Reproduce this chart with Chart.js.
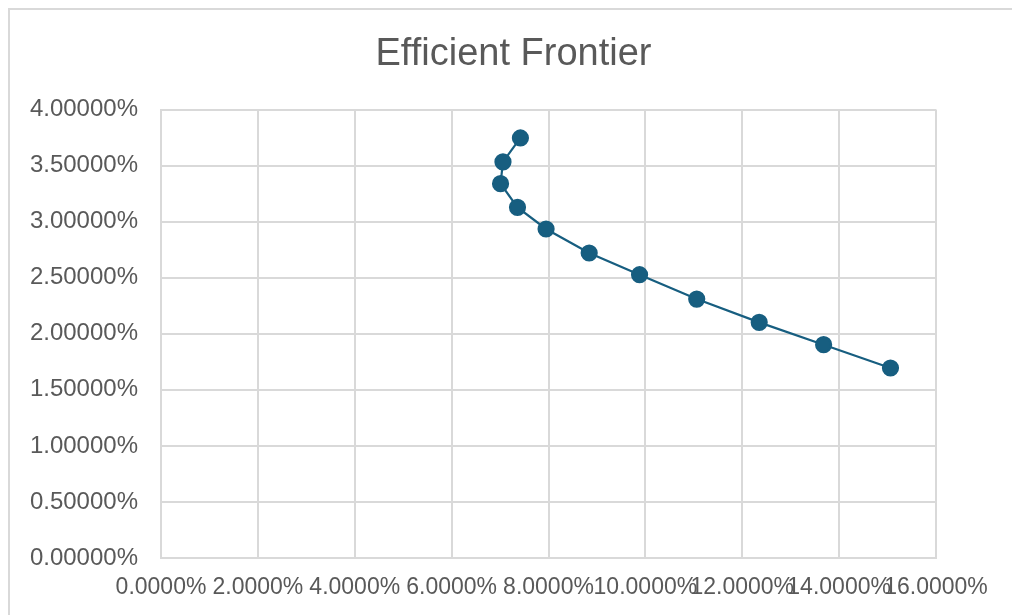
<!DOCTYPE html>
<html>
<head>
<meta charset="utf-8">
<script src="https://cdn.jsdelivr.net/npm/chart.js@4"></script>
<style>
    html, body { margin: 0; padding: 0; background: #ffffff; overflow: hidden; }
    #wrap { position: relative; width: 1012px; height: 615px; }
    #frame {
        position: absolute; left: 8px; top: 8px; width: 1100px; height: 700px;
        border-top: 2px solid #d9d9d9; border-left: 2px solid #d9d9d9;
        pointer-events: none;
    }
</style>
</head>
<body>
<div id="wrap">
    <canvas id="frontierChart" width="1012" height="615"></canvas>
    <div id="frame"></div>
</div>
<script>
const chartTitle = "Efficient Frontier";
// portfolio risk (x, %) and expected return (y, %)
const risk = [7.42, 7.06, 7.01, 7.36, 7.95, 8.84, 9.88, 11.06, 12.35, 13.68, 15.06];
const returns = [3.747, 3.533, 3.339, 3.128, 2.935, 2.721, 2.527, 2.310, 2.102, 1.903, 1.695];
const xMin = 0, xMax = 16, xStep = 2;
const yMin = 0, yMax = 4, yStep = 0.5;

const lineColor = "#175e80";
const gridColor = "#d9d9d9";
const textColor = "#595959";
const fontFamily = "'Liberation Sans', Arial, sans-serif";

function init() {
    const ctx = document.getElementById("frontierChart").getContext("2d");
    const points = risk.map((x, i) => ({ x: x, y: returns[i] }));

    window.myChart = new Chart(ctx, {
        type: "scatter",
        data: {
            datasets: [{
                data: points,
                showLine: true,
                borderColor: lineColor,
                backgroundColor: lineColor,
                borderWidth: 2.2,
                pointRadius: 7.5,
                pointHoverRadius: 7.5,
                pointBackgroundColor: lineColor,
                pointBorderColor: lineColor,
                tension: 0
            }]
        },
        options: {
            responsive: false,
            animation: false,
            events: [],
            layout: { padding: { left: 15, right: 0, top: 0, bottom: 0 } },
            plugins: {
                legend: { display: false },
                tooltip: { enabled: false },
                title: {
                    display: true,
                    text: chartTitle,
                    color: textColor,
                    font: { family: fontFamily, size: 38, weight: "normal", lineHeight: 1.2 },
                    padding: { top: 32, bottom: 32 }
                }
            },
            scales: {
                x: {
                    type: "linear",
                    min: xMin,
                    max: xMax,
                    afterFit: scale => { scale.height = 57; },
                    grid: { color: gridColor, lineWidth: 2, drawTicks: false },
                    border: { color: gridColor, width: 2 },
                    ticks: {
                        stepSize: xStep,
                        autoSkip: false,
                        maxRotation: 0,
                        minRotation: 0,
                        padding: 16,
                        color: textColor,
                        font: { family: fontFamily, size: 23 },
                        callback: value => value.toFixed(4) + "%"
                    }
                },
                y: {
                    type: "linear",
                    min: yMin,
                    max: yMax,
                    afterFit: scale => { scale.width = 146; },
                    grid: { color: gridColor, lineWidth: 2, drawTicks: false },
                    border: { color: gridColor, width: 2 },
                    ticks: {
                        stepSize: yStep,
                        autoSkip: false,
                        padding: 23,
                        color: textColor,
                        font: { family: fontFamily, size: 24 },
                        callback: value => value.toFixed(5) + "%"
                    }
                },
                // empty right-hand axis that only reserves the margin right of the plot
                spacer: {
                    type: "linear",
                    position: "right",
                    display: true,
                    afterFit: scale => { scale.width = 76; },
                    grid: { display: false, drawOnChartArea: false },
                    border: { display: false },
                    ticks: { display: false }
                }
            }
        }
    });
}

document.addEventListener("DOMContentLoaded", init);
</script>
</body>
</html>
